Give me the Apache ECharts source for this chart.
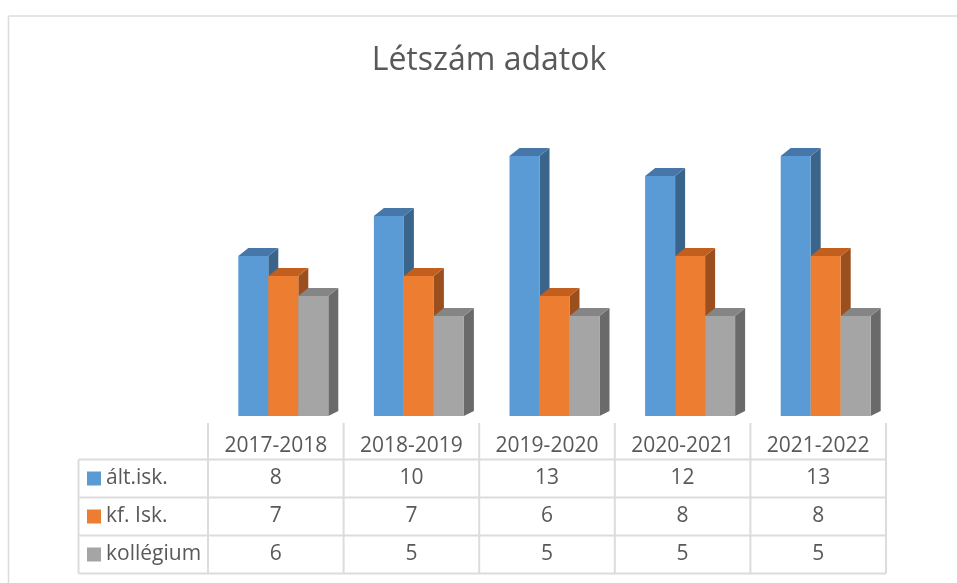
<!DOCTYPE html>
<html>
<head>
<meta charset="utf-8">
<script src="https://cdn.jsdelivr.net/npm/echarts@6/dist/echarts.min.js"></script>
<style>
html,body{margin:0;padding:0;background:#fff;}
#chart{width:957px;height:583px;}
</style>
</head>
<body>
<div id="chart"></div>
<script>
// adatok
var categories = ['2017-2018', '2018-2019', '2019-2020', '2020-2021', '2021-2022'];
var seriesNames = ['ált.isk.', 'kf. Isk.', 'kollégium'];
var altIsk = [8, 10, 13, 12, 13];
var kfIsk = [7, 7, 6, 8, 8];
var kollegium = [6, 5, 5, 5, 5];
var seriesData = [altIsk, kfIsk, kollegium];

// elülső, felső, oldalsó lap színe
var faceColors = [
	['#5b9bd5', '#4677a8', '#3a6489'],
	['#ed7d31', '#c25f1f', '#9c4f1e'],
	['#a5a5a5', '#858585', '#6a6a6a']
];
var textColor = '#595959';
var lineColor = '#dcdcdc';
var font = '"Open Sans", "Noto Sans", sans-serif';

var barW = 30, depthX = 10, depthTop = -8, depthBottom = -5;

function renderBar(sIdx) {
	return function(params, api) {
		var cat = api.value(0);
		var base = api.coord([cat, 0]);
		var top = api.coord([cat, api.value(1)]);
		var x0 = base[0] - barW * 1.5 + 7.5 + sIdx * barW;
		var x1 = x0 + barW;
		var yT = top[1], yB = base[1];
		var c = faceColors[sIdx];
		return {
			type: 'group',
			children: [
				{ type: 'polygon', shape: { points: [[x1, yT], [x1 + depthX, yT + depthTop], [x1 + depthX, yB + depthBottom], [x1, yB]] }, style: { fill: c[2] } },
				{ type: 'polygon', shape: { points: [[x0, yT], [x0 + depthX, yT + depthTop], [x1 + depthX, yT + depthTop], [x1, yT]] }, style: { fill: c[1] } },
				{ type: 'rect', shape: { x: x0, y: yT, width: barW, height: yB - yT }, style: { fill: c[0] } }
			]
		};
	};
}

var series = seriesData.map(function(arr, i) {
	return {
		name: seriesNames[i],
		type: 'custom',
		renderItem: renderBar(i),
		encode: { x: 0, y: 1 },
		data: arr.map(function(v, j) { return [j, v]; })
	};
});

var chart = echarts.init(document.getElementById('chart'));
chart.setOption({
	animation: false,
	grid: { left: 208, right: 71, top: 136, bottom: 167 },
	xAxis: { type: 'category', data: categories, show: false },
	yAxis: { type: 'value', min: 0, max: 14, show: false },
	series: series
});

// adattábla
var tableLeft = 78.5, tableRight = 886, headerTop = 423, headerBottom = 459.5, rowH = 38;
var colEdges = [208];
for (var i = 0; i < categories.length; i++) {
	var cx = chart.convertToPixel({ xAxisIndex: 0 }, i);
	colEdges.push(cx + (cx - colEdges[i]));
}
var tableBottom = headerBottom + rowH * seriesNames.length;
var g = [];

// keret
g.push({ type: 'line', shape: { x1: 8.5, y1: 16, x2: 957, y2: 16 }, style: { stroke: lineColor, lineWidth: 1.5 } });
g.push({ type: 'line', shape: { x1: 8.5, y1: 16, x2: 8.5, y2: 583 }, style: { stroke: lineColor, lineWidth: 1.5 } });

// cím
g.push({ type: 'text', x: 489, y: 61, style: { text: 'Létszám adatok', font: '32px ' + font, fill: textColor, textAlign: 'center', textVerticalAlign: 'middle' } });

// vízszintes vonalak
for (var r = 0; r <= seriesNames.length; r++) {
	var y = headerBottom + r * rowH;
	g.push({ type: 'line', shape: { x1: tableLeft, y1: y, x2: tableRight, y2: y }, style: { stroke: lineColor, lineWidth: 2 } });
}
// függőleges vonalak
g.push({ type: 'line', shape: { x1: tableLeft, y1: headerBottom, x2: tableLeft, y2: tableBottom }, style: { stroke: lineColor, lineWidth: 2 } });
colEdges.forEach(function(x) {
	g.push({ type: 'line', shape: { x1: x, y1: headerTop, x2: x, y2: tableBottom }, style: { stroke: lineColor, lineWidth: 2 } });
});

// fejléc
categories.forEach(function(c, i) {
	var cx = chart.convertToPixel({ xAxisIndex: 0 }, i);
	g.push({ type: 'text', x: cx, y: 446, style: { text: c, font: '21px ' + font, fill: textColor, textAlign: 'center', textVerticalAlign: 'middle' } });
});

// sorok
seriesNames.forEach(function(name, s) {
	var yc = headerBottom + rowH * (s + 0.5);
	g.push({ type: 'rect', shape: { x: 87, y: yc - 7, width: 14, height: 14 }, style: { fill: faceColors[s][0] } });
	g.push({ type: 'text', x: 106, y: yc, style: { text: name, font: '21px ' + font, fill: textColor, textAlign: 'left', textVerticalAlign: 'middle' } });
	seriesData[s].forEach(function(v, i) {
		var cx = chart.convertToPixel({ xAxisIndex: 0 }, i);
		g.push({ type: 'text', x: cx, y: yc, style: { text: String(v), font: '21px ' + font, fill: textColor, textAlign: 'center', textVerticalAlign: 'middle' } });
	});
});

chart.setOption({ graphic: g });
</script>
</body>
</html>
